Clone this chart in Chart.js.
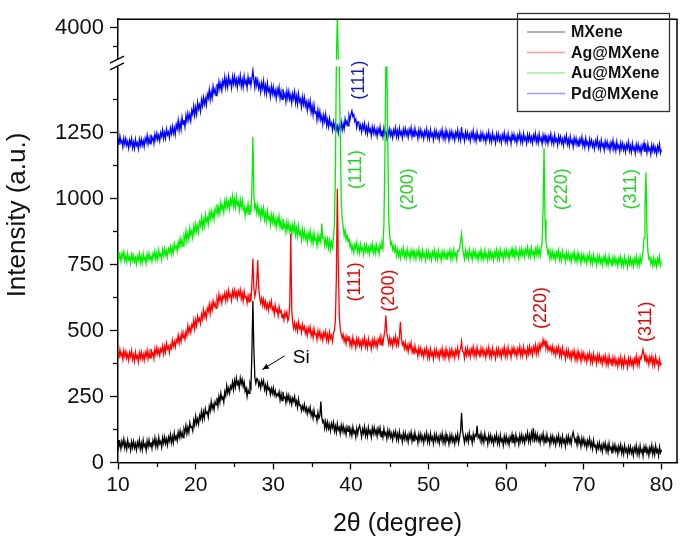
<!DOCTYPE html>
<html><head><meta charset="utf-8">
<script src="https://cdn.jsdelivr.net/npm/chart.js@4.4.1/dist/chart.umd.min.js"></script>
<style>html,body{margin:0;padding:0;background:#fff;}canvas{display:block;}</style>
</head><body>
<canvas id="c" width="685" height="545"></canvas>
<script>
// ---- data: 2θ grid 10..80, step 0.125 (8 values per degree, one row per degree) ----
const thetaStart = 10, thetaStep = 0.125;
const seriesNames = ['MXene', 'Ag@MXene', 'Au@MXene', 'Pd@MXene'];
const mxene = [
85,60,76,52,81,65,89,55,
75,51,84,60,70,46,79,57,
80,55,71,47,77,61,85,51,
73,49,84,60,70,46,82,60,
85,60,77,54,84,68,93,60,
83,60,95,71,80,58,94,73,
97,72,89,66,96,81,106,74,
98,75,112,88,100,82,115,95,
120,97,114,94,127,114,140,109,
133,113,151,133,136,120,160,141,
175,147,165,145,178,165,194,163,
192,169,203,186,191,172,212,195,
231,204,220,200,230,218,245,214,
250,228,262,240,248,228,268,252,
291,264,282,262,290,280,305,276,
310,286,320,296,306,282,320,298,
315,288,305,270,282,250,275,262,
300,285,420,612,430,322,300,318,
315,290,304,282,310,294,310,276,
292,266,298,276,282,258,280,262,
283,256,272,250,260,252,268,236,
260,234,268,244,248,226,256,236,
255,228,245,220,244,232,250,220,
233,208,240,216,218,196,214,200,
220,194,208,184,204,190,210,178,
193,168,198,174,180,158,190,168,
178,231,170,152,160,130,155,128,
153,128,144,120,148,132,152,118,
138,114,147,123,133,109,141,119,
140,114,130,106,134,118,140,106,
126,102,134,111,120,96,129,107,
130,140,121,97,127,111,135,101,
123,99,133,110,120,96,131,109,
133,108,123,99,129,110,131,98,
120,96,128,104,113,90,122,99,
120,95,110,86,115,100,118,87,
108,84,117,93,102,78,111,89,
112,87,102,78,108,92,115,81,
103,79,113,89,98,74,107,85,
108,83,99,75,105,88,112,78,
100,76,110,86,96,72,105,83,
106,81,97,73,103,86,110,76,
98,74,108,84,94,70,103,81,
104,79,95,71,101,84,108,74,
95,120,188,120,96,75,102,84,
103,79,113,89,98,74,107,85,
106,100,139,95,104,88,110,78,
100,76,110,86,94,70,103,81,
103,78,94,70,99,83,106,72,
94,70,104,80,89,65,99,77,
100,75,91,67,97,82,106,73,
95,71,105,82,92,68,103,81,
105,80,97,74,103,88,113,80,
103,79,113,90,130,76,108,86,
107,82,98,74,102,86,110,76,
96,72,106,82,91,67,100,78,
100,75,91,67,96,80,103,70,
90,66,100,76,86,62,96,75,
100,75,92,70,100,115,96,78,
90,66,99,74,84,60,92,70,
90,65,80,56,84,67,90,59,
76,52,85,60,65,43,72,53,
75,50,65,41,71,55,74,43,
64,40,73,49,57,34,66,45,
67,42,57,33,62,45,67,35,
56,32,65,41,52,28,59,38,
60,35,51,27,57,41,65,31,
53,29,63,39,49,25,59,37,
60,35,51,27,57,41,65,31,
53,29,63,39,49,25,59,37,
48];
const agMxene = [
418,394,428,404,414,390,424,402,
420,395,411,387,417,401,424,390,
408,384,418,395,405,381,416,395,
418,393,410,387,416,401,425,393,
418,395,430,407,416,393,430,410,
435,411,428,405,430,420,442,412,
440,418,452,430,440,416,444,432,
463,440,458,437,465,455,482,452,
478,458,492,472,484,466,496,480,
518,493,512,492,522,512,540,506,
540,518,554,535,546,526,560,543,
578,552,570,548,584,572,598,564,
600,578,612,592,604,584,620,602,
638,612,628,604,632,622,642,612,
642,618,652,628,637,614,650,630,
653,628,644,620,650,634,654,620,
640,612,648,624,628,604,632,608,
640,612,680,773,660,628,650,690,
766,660,626,604,622,596,618,590,
610,584,600,576,605,590,612,578,
588,562,596,572,580,556,590,568,
575,549,564,540,568,552,570,536,
548,600,866,580,530,508,530,505,
523,498,532,508,516,492,524,504,
515,489,505,481,510,494,514,480,
498,473,507,483,490,466,499,477,
497,471,487,463,492,477,497,462,
484,460,494,470,480,458,490,500,
540,700,1037,750,560,505,488,470,
485,458,475,450,477,462,480,444,
463,439,473,449,459,435,469,447,
467,442,458,434,464,448,472,438,
458,434,468,444,454,430,464,442,
467,442,459,436,466,452,476,446,
468,450,478,500,557,490,470,448,
473,448,464,440,470,454,478,444,
466,446,480,533,470,446,455,432,
455,429,444,420,449,433,454,418,
433,409,442,418,426,402,434,412,
433,407,423,399,428,411,432,398,
420,396,430,406,416,392,426,404,
427,402,418,394,424,408,432,398,
420,396,430,406,416,392,426,404,
429,404,420,396,426,410,434,400,
423,430,458,420,419,395,429,407,
433,408,424,400,430,414,438,404,
426,402,436,412,422,398,432,410,
431,406,422,398,428,412,436,402,
423,399,433,409,419,395,429,407,
431,406,422,398,428,412,436,402,
426,402,436,412,422,398,432,410,
434,409,425,401,431,415,439,405,
428,404,438,414,424,400,434,412,
440,415,431,407,437,421,445,411,
438,414,448,428,450,440,466,446,
460,434,451,425,440,424,438,418,
440,414,430,406,434,417,438,404,
426,401,434,410,418,393,426,403,
425,399,415,391,420,403,424,390,
413,388,421,397,408,383,416,394,
415,389,405,381,410,393,414,380,
404,379,412,388,399,374,407,385,
407,381,397,373,401,384,405,371,
395,370,403,379,390,365,397,375,
397,371,387,363,392,375,400,366,
388,364,398,374,384,360,394,372,
395,370,386,362,393,377,403,369,
393,369,400,392,410,428,408,382,
405,380,395,371,399,382,403,369,
393,368,401,377,385,360,392,370,
376];
const auMxene = [
795,770,786,762,792,776,799,765,
783,759,792,768,778,754,788,766,
785,760,776,752,782,767,791,757,
780,756,791,767,777,754,790,768,
793,768,785,761,791,777,801,768,
793,770,805,782,791,768,806,786,
810,786,802,779,809,796,818,789,
816,794,830,810,820,800,834,816,
848,822,845,819,859,844,877,839,
870,844,888,862,877,852,896,872,
903,876,898,872,911,896,928,890,
920,894,938,912,927,902,946,922,
953,926,948,922,961,946,978,940,
970,943,986,960,974,947,990,966,
996,967,987,960,997,979,1009,970,
998,967,1007,976,987,956,995,967,
993,957,969,934,964,947,979,940,
975,950,1040,1234,1010,962,978,945,
973,940,957,925,959,937,964,920,
945,914,953,922,931,900,939,910,
936,904,922,891,925,905,932,890,
915,884,923,892,902,872,911,882,
908,876,894,863,898,877,905,862,
888,857,896,864,874,843,882,852,
878,847,864,834,869,849,876,834,
860,830,870,840,851,821,861,833,
858,835,905,850,852,820,848,822,
845,812,840,806,835,815,850,900,
1100,2000,4200,3000,1800,1250,1000,920,
895,860,880,845,860,836,850,818,
830,803,820,795,826,810,833,797,
818,793,827,803,813,788,822,800,
823,798,814,790,820,804,828,794,
816,792,826,803,813,790,826,810,
830,812,900,1150,2400,2400,1200,920,
858,825,835,806,820,800,818,784,
807,782,798,774,804,788,812,778,
798,774,808,784,794,770,804,782,
803,778,794,770,800,784,808,774,
794,770,804,780,790,766,800,778,
800,775,791,767,797,781,805,771,
793,769,803,779,789,765,799,777,
800,775,791,767,797,781,805,771,
796,772,806,782,792,768,802,800,
812,840,866,815,790,770,804,778,
796,772,806,782,792,768,802,780,
800,775,791,767,797,781,805,771,
793,769,803,779,789,765,799,777,
800,775,791,767,797,781,805,771,
796,772,806,782,792,768,802,780,
805,780,796,772,802,786,810,776,
800,776,810,786,796,772,806,784,
810,785,801,777,807,791,815,781,
803,779,813,789,799,775,809,787,
815,785,808,782,812,830,960,1191,
920,835,815,790,805,772,799,775,
800,775,791,767,796,780,804,769,
790,766,800,776,785,761,795,773,
794,769,785,761,790,774,797,763,
784,760,794,770,779,755,788,766,
787,762,778,754,783,767,790,756,
777,753,787,763,772,748,781,759,
781,756,772,748,777,761,784,750,
772,748,782,758,767,743,776,754,
777,752,768,744,773,757,780,746,
768,744,778,754,764,740,774,752,
775,750,766,742,772,756,781,747,
770,746,780,756,778,800,850,960,
1098,880,800,770,778,752,770,745,
775,750,766,742,772,755,779,745,
759];
const pdMxene = [
1228,1203,1236,1211,1220,1195,1228,1205,
1227,1201,1216,1191,1221,1204,1227,1192,
1213,1190,1224,1201,1211,1188,1223,1201,
1225,1201,1219,1196,1228,1213,1239,1206,
1230,1207,1242,1220,1231,1208,1243,1223,
1247,1223,1240,1218,1249,1234,1259,1227,
1250,1228,1263,1241,1252,1230,1266,1245,
1273,1246,1268,1242,1280,1264,1296,1258,
1288,1262,1307,1281,1297,1271,1315,1292,
1323,1297,1319,1294,1334,1319,1351,1314,
1345,1320,1364,1339,1355,1330,1374,1351,
1383,1357,1379,1354,1394,1379,1411,1374,
1405,1380,1424,1399,1415,1390,1434,1411,
1443,1415,1436,1409,1446,1429,1460,1421,
1450,1422,1463,1435,1447,1419,1461,1434,
1463,1432,1451,1421,1456,1437,1465,1424,
1450,1422,1463,1435,1447,1419,1461,1434,
1460,1428,1455,1485,1448,1420,1462,1428,
1448,1416,1434,1403,1438,1417,1445,1402,
1428,1397,1437,1406,1417,1386,1425,1397,
1423,1392,1409,1379,1414,1394,1421,1379,
1405,1375,1415,1385,1397,1367,1407,1379,
1406,1375,1392,1362,1397,1377,1404,1362,
1388,1357,1397,1366,1377,1346,1385,1357,
1383,1350,1366,1334,1366,1344,1370,1326,
1350,1317,1355,1322,1331,1298,1336,1305,
1330,1297,1313,1282,1315,1293,1319,1276,
1298,1272,1303,1277,1285,1259,1290,1266,
1287,1260,1274,1248,1277,1263,1290,1258,
1283,1263,1301,1280,1294,1275,1314,1297,
1318,1332,1310,1318,1292,1300,1268,1290,
1290,1263,1278,1252,1280,1263,1285,1250,
1270,1245,1278,1253,1263,1238,1271,1248,
1270,1244,1260,1235,1264,1248,1271,1237,
1258,1234,1267,1243,1253,1229,1262,1240,
1263,1238,1254,1230,1260,1244,1268,1234,
1256,1232,1266,1242,1253,1229,1263,1242,
1265,1240,1256,1232,1261,1245,1268,1234,
1256,1232,1265,1241,1251,1227,1260,1237,
1260,1235,1250,1226,1255,1239,1263,1229,
1250,1226,1260,1236,1246,1222,1256,1234,
1256,1231,1247,1223,1253,1237,1261,1227,
1248,1224,1258,1234,1244,1220,1254,1232,
1254,1229,1245,1221,1251,1235,1259,1225,
1246,1222,1270,1232,1242,1218,1252,1230,
1251,1226,1242,1218,1248,1232,1256,1222,
1242,1218,1252,1228,1238,1214,1248,1226,
1247,1222,1238,1214,1244,1228,1252,1218,
1238,1214,1248,1224,1234,1210,1244,1222,
1244,1219,1235,1211,1241,1225,1249,1215,
1236,1212,1246,1222,1232,1208,1242,1220,
1243,1218,1234,1210,1240,1224,1248,1214,
1236,1212,1246,1222,1232,1208,1242,1220,
1242,1217,1233,1209,1239,1223,1247,1213,
1234,1210,1244,1220,1230,1206,1240,1218,
1239,1214,1230,1206,1236,1220,1244,1210,
1230,1206,1240,1216,1226,1202,1236,1214,
1234,1209,1225,1201,1231,1215,1239,1205,
1224,1200,1234,1210,1220,1196,1230,1208,
1228,1203,1219,1195,1225,1209,1233,1199,
1218,1194,1228,1204,1214,1190,1224,1202,
1221,1196,1212,1188,1218,1202,1226,1192,
1211,1187,1221,1197,1207,1183,1217,1195,
1215,1190,1206,1182,1212,1196,1220,1186,
1205,1181,1215,1191,1201,1177,1211,1189,
1209,1184,1200,1176,1206,1190,1214,1180,
1199,1175,1209,1185,1195,1171,1205,1183,
1205,1180,1196,1172,1202,1186,1210,1176,
1196,1172,1206,1182,1192,1168,1202,1180,
1201,1176,1192,1168,1198,1182,1206,1172,
1185];
const xMajorTicks = [10, 20, 30, 40, 50, 60, 70, 80];
const xMinorTicks = [15, 25, 35, 45, 55, 65, 75];
const yMajorTicks = [0, 250, 500, 750, 1000, 1250, 4000];
const yMinorTicks = [125, 375, 625, 875, 1125, 1375, 3750];
// peak annotations: [text, 2θ, intensity, series index]
const peakLabels = [
  ['(111)', 41.0, 1448, 3],
  ['(111)', 40.7, 1109, 2], ['(200)', 47.4, 1035, 2], ['(220)', 67.25, 1035, 2], ['(311)', 76.1, 1035, 2],
  ['(111)', 40.5, 684, 1], ['(200)', 44.9, 651, 1], ['(220)', 64.5, 585, 1], ['(311)', 78.0, 533, 1]
];
const siLabel = ['Si', 33.6, 397];
const siArrow = [31.45, 404, 28.6, 352];

// ---- styling ----
const FONT = '"Liberation Sans", Arial, sans-serif';
const lineColors = ['#000000', '#ff0000', '#00ee00', '#0000ff'];
const labelColors = ['#000000', '#e60000', '#22d422', '#1a1ab8'];
const legendColors = ['#9a9a9a', '#ff9c9c', '#9cf59c', '#9c9cf0'];
// broken y-axis: lower segment 0..1500, upper segment 3566..max
const BRK = { lowMax: 1500, lowDec: 0.8934, highMin: 3566, highDec: 0.9088 };

class BrokenLinearScale extends Chart.LinearScale {
  _dec(v) {
    const mn = this.min, mx = this.max;
    if (v <= BRK.lowMax) return (v - mn) / (BRK.lowMax - mn) * BRK.lowDec;
    if (v >= BRK.highMin) return BRK.highDec + (v - BRK.highMin) / (mx - BRK.highMin) * (1 - BRK.highDec);
    return BRK.lowDec + (v - BRK.lowMax) / (BRK.highMin - BRK.lowMax) * (BRK.highDec - BRK.lowDec);
  }
  getPixelForValue(v) {
    if (v === null || v === undefined || isNaN(v)) return NaN;
    return this.getPixelForDecimal(this._dec(v));
  }
  getValueForPixel(p) {
    const d = this.getDecimalForPixel(p), mn = this.min, mx = this.max;
    if (d <= BRK.lowDec) return mn + d / BRK.lowDec * (BRK.lowMax - mn);
    if (d >= BRK.highDec) return BRK.highMin + (d - BRK.highDec) / (1 - BRK.highDec) * (mx - BRK.highMin);
    return BRK.lowMax + (d - BRK.lowDec) / (BRK.highDec - BRK.lowDec) * (BRK.highMin - BRK.lowMax);
  }
}
BrokenLinearScale.id = 'brokenLinear';
BrokenLinearScale.defaults = Chart.LinearScale.defaults;
Chart.register(BrokenLinearScale);

Chart.defaults.font.family = FONT;
Chart.defaults.color = '#000';

const seriesValues = [mxene, agMxene, auMxene, pdMxene];
const datasets = seriesValues.map((arr, k) => ({
  label: seriesNames[k],
  data: arr.map((v, i) => ({ x: thetaStart + i * thetaStep, y: v })),
  borderColor: lineColors[k],
  borderWidth: 1.3,
  pointRadius: 0,
  tension: 0,
  fill: false
}));

const decorPlugin = {
  id: 'decor',
  afterDraw(chart) {
    const { ctx, chartArea: a, scales: { x, y } } = chart;
    ctx.save();
    // axis break band
    const pHi = y.getPixelForValue(BRK.highMin), pLo = y.getPixelForValue(BRK.lowMax);
    ctx.fillStyle = '#fff';
    ctx.fillRect(a.left - 1, pHi, a.right - a.left, pLo - pHi);
    ctx.strokeStyle = '#000'; ctx.lineWidth = 1.3;
    [pHi, pLo].forEach(p => {
      ctx.beginPath(); ctx.moveTo(a.left - 8, p + 3.5); ctx.lineTo(a.left + 6, p - 3.5); ctx.stroke();
    });
    // top and right frame
    ctx.lineWidth = 1.5;
    ctx.beginPath();
    ctx.moveTo(a.left, a.top); ctx.lineTo(a.right, a.top); ctx.lineTo(a.right, a.bottom);
    ctx.stroke();
    // minor ticks
    ctx.lineWidth = 1.3;
    yMinorTicks.forEach(v => {
      const p = Math.round(y.getPixelForValue(v)) + 0.5;
      ctx.beginPath(); ctx.moveTo(a.left - 5, p); ctx.lineTo(a.left, p); ctx.stroke();
    });
    xMinorTicks.forEach(v => {
      const p = Math.round(x.getPixelForValue(v)) + 0.5;
      ctx.beginPath(); ctx.moveTo(p, a.bottom); ctx.lineTo(p, a.bottom + 4.5); ctx.stroke();
    });
    // peak labels (rotated)
    ctx.font = '18px ' + FONT;
    ctx.textAlign = 'center'; ctx.textBaseline = 'middle';
    peakLabels.forEach(([t, xv, yv, s]) => {
      ctx.save();
      ctx.translate(x.getPixelForValue(xv), y.getPixelForValue(yv));
      ctx.rotate(-Math.PI / 2);
      ctx.fillStyle = labelColors[s];
      ctx.fillText(t, 0, 0);
      ctx.restore();
    });
    // Si label + arrow
    ctx.fillStyle = '#000';
    ctx.font = '19px ' + FONT;
    ctx.fillText(siLabel[0], x.getPixelForValue(siLabel[1]), y.getPixelForValue(siLabel[2]));
    const ax0 = x.getPixelForValue(siArrow[0]), ay0 = y.getPixelForValue(siArrow[1]);
    const ax1 = x.getPixelForValue(siArrow[2]), ay1 = y.getPixelForValue(siArrow[3]);
    ctx.lineWidth = 1;
    ctx.beginPath(); ctx.moveTo(ax0, ay0); ctx.lineTo(ax1, ay1); ctx.stroke();
    const ang = Math.atan2(ay1 - ay0, ax1 - ax0);
    ctx.beginPath();
    ctx.moveTo(ax1, ay1);
    ctx.lineTo(ax1 - 7 * Math.cos(ang - 0.4), ay1 - 7 * Math.sin(ang - 0.4));
    ctx.lineTo(ax1 - 7 * Math.cos(ang + 0.4), ay1 - 7 * Math.sin(ang + 0.4));
    ctx.closePath(); ctx.fill();
    // legend
    const L = { x: 517, y: 13, w: 152, h: 98 };
    ctx.strokeStyle = '#333'; ctx.lineWidth = 1.3;
    ctx.strokeRect(L.x + 0.5, L.y + 0.5, L.w, L.h);
    ctx.font = 'bold 16px ' + FONT;
    ctx.textAlign = 'left';
    chart.data.datasets.forEach((ds, k) => {
      const cy = L.y + 19 + k * 20.5;
      ctx.strokeStyle = legendColors[k]; ctx.lineWidth = 1.5;
      ctx.beginPath(); ctx.moveTo(L.x + 10, cy); ctx.lineTo(L.x + 48, cy); ctx.stroke();
      ctx.fillStyle = '#111';
      ctx.fillText(ds.label, L.x + 54, cy + 1);
    });
    // y axis title
    ctx.save();
    ctx.translate(18, 215);
    ctx.rotate(-Math.PI / 2);
    ctx.font = '26px ' + FONT;
    ctx.fillStyle = '#111';
    ctx.textAlign = 'center';
    ctx.fillText('Intensity (a.u.)', 0, 0);
    ctx.restore();
    ctx.restore();
  }
};

new Chart(document.getElementById('c'), {
  type: 'line',
  data: { datasets },
  options: {
    responsive: false,
    animation: false,
    events: [],
    layout: { padding: { top: 7.5, right: 8, left: 0, bottom: 0 } },
    plugins: { legend: { display: false }, tooltip: { enabled: false } },
    scales: {
      x: {
        type: 'linear', min: 10, max: 82,
        afterBuildTicks: s => { s.ticks = xMajorTicks.map(v => ({ value: v })); },
        afterFit: s => { s.height = 82.5; },
        grid: { drawOnChartArea: false, drawTicks: true, tickLength: 7, color: '#000', tickWidth: 1.3 },
        border: { display: true, color: '#000', width: 1.5 },
        ticks: { font: { size: 21 }, color: '#111', padding: 3, maxRotation: 0, autoSkip: false, callback: v => String(v) },
        title: { display: true, text: '2θ (degree)', font: { size: 25 }, color: '#111', padding: { top: 0, bottom: 6 } }
      },
      y: {
        type: 'brokenLinear', min: 0, max: 4112,
        afterBuildTicks: s => { s.ticks = yMajorTicks.map(v => ({ value: v })); },
        afterFit: s => { s.width = 118; },
        grid: { drawOnChartArea: false, drawTicks: true, tickLength: 8, color: '#000', tickWidth: 1.3 },
        border: { display: true, color: '#000', width: 1.5 },
        ticks: { font: { size: 22 }, color: '#111', padding: 6, autoSkip: false, callback: v => String(v) },
        title: { display: false }
      }
    }
  },
  plugins: [decorPlugin]
});
</script>
</body></html>
